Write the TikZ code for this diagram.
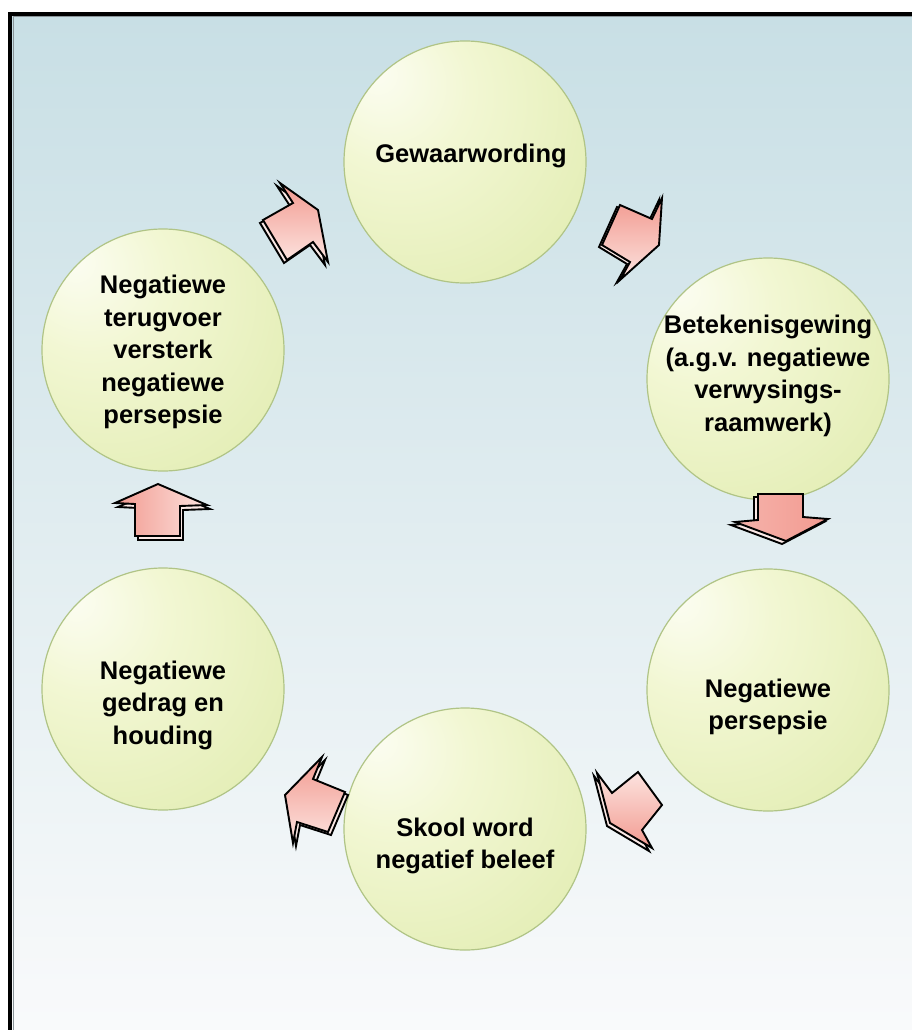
\documentclass[tikz,border=0pt]{standalone}
\usepackage{fontspec}
\setmainfont{Liberation Sans}
\usetikzlibrary{calc}
\definecolor{bgtop}{HTML}{C8DFE5}
\definecolor{bgbot}{HTML}{F9FAFB}
\definecolor{circin}{HTML}{FCFDF2}
\definecolor{circmid}{HTML}{F2F7D3}
\definecolor{circout}{HTML}{DEEAAA}
\definecolor{circedge}{HTML}{B0C486}
\definecolor{arrdark}{HTML}{F29A90}
\definecolor{arrlight}{HTML}{FCE3DF}
\definecolor{pinkside}{HTML}{FBE9E6}
\definecolor{framegray}{HTML}{8A9498}
\pgfdeclareradialshading{ballsh}{\pgfpoint{-19bp}{19bp}}{color(0bp)=(circin); color(16bp)=(circmid); color(50bp)=(circout); color(75bp)=(circout)}
\tikzset{
  arrmain/.style={draw=black, line width=1.9pt, line join=miter},
  arrside/.style={fill=pinkside, draw=black, line width=1.9pt, line join=miter},
  circ/.style={circle, minimum size=242pt, inner sep=0pt, draw=circedge, line width=1.2pt, shading=ballsh},
  lbl/.style={font=\bfseries\fontsize{25.5}{32.5}\selectfont, align=center, text=black, inner sep=0pt}
}
\begin{document}
\begin{tikzpicture}[x=1pt,y=-1pt]
\useasboundingbox (0,0) rectangle (912,1030);
\fill[white] (0,0) rectangle (912,1030);
\shade[top color=bgtop, bottom color=bgbot] (10,14) rectangle (912,1030);
\draw[framegray, line width=1pt] (13,1030) -- (13,17) -- (912,17);
\draw[black, line width=4pt] (10,1030) -- (10,14) -- (912,14);

% circles
\node[circ] (gew) at (465,162) {};
\node[circ] (bet) at (768,379) {};
\node[circ] (per) at (768,690) {};
\node[circ] (sko) at (465,829) {};
\node[circ] (ged) at (163,689) {};
\node[circ] (ter) at (163,350) {};

% labels
\node[lbl] (tgew) at ($(gew)+(6,-6)$) {Gewaarwording};
\node[lbl] (tbet) at ($(bet)+(0,-3)$) {Betekenisgewing\\(a.g.v. negatiewe\\verwysings-\\raamwerk)};
\node[lbl] (tper) at ($(per)+(0,17)$) {Negatiewe\\persepsie};
\node[lbl] (tsko) at ($(sko)+(0,17)$) {Skool word\\negatief beleef};
\node[lbl] (tged) at ($(ged)+(0,16)$) {Negatiewe\\gedrag en\\houding};
\node[lbl] (tter) at ($(ter)+(0,2)$) {Negatiewe\\terugvoer\\versterk\\negatiewe\\persepsie};

% arrow 1: terugvoer -> gewaarwording
\draw[arrside, shift={(-3,3)}] (318,210)--(280,183)--(293,203)--(263,220)--(287,260)--(313,242)--(328,262)--cycle;
\draw[arrmain, top color=arrdark, bottom color=arrlight] (318,210)--(280,183)--(293,203)--(263,220)--(287,260)--(313,242)--(328,262)--cycle;

% arrow 2: gewaarwording -> betekenisgewing
\draw[arrside, shift={(-3,2)}] (659,245)--(662,198)--(652,219)--(620,205)--(602,245)--(630,262)--(620,280)--cycle;
\draw[arrmain, top color=arrdark, bottom color=arrlight] (659,245)--(662,198)--(652,219)--(620,205)--(602,245)--(630,262)--(620,280)--cycle;

% arrow 3: betekenisgewing -> persepsie
\draw[arrside, shift={(-4,3)}] (758,494)--(803,494)--(803,517)--(828,519)--(786,541)--(735,522)--(758,520)--cycle;
\draw[arrmain, left color=arrdark!75, middle color=arrlight, right color=arrdark] (758,494)--(803,494)--(803,517)--(828,519)--(786,541)--(735,522)--(758,520)--cycle;

% arrow 4: persepsie -> skool
\draw[arrside, shift={(-3,3)}] (610,823)--(597,773)--(612,793)--(638,772)--(662,805)--(642,830)--(652,848)--cycle;
\draw[arrmain, top color=arrlight, bottom color=arrdark] (610,823)--(597,773)--(612,793)--(638,772)--(662,805)--(642,830)--(652,848)--cycle;

% arrow 5: skool -> gedrag
\draw[arrside, shift={(3,3)}] (285,795)--(322,757)--(313,779)--(345,792)--(328,832)--(297,822)--(293,843)--cycle;
\draw[arrmain, top color=arrdark, bottom color=arrlight] (285,795)--(322,757)--(313,779)--(345,792)--(328,832)--(297,822)--(293,843)--cycle;

% arrow 6: gedrag -> terugvoer
\draw[arrside, shift={(3,4)}] (158,484)--(207,505)--(180,506)--(180,536)--(135,536)--(135,504)--(115,503)--cycle;
\draw[arrmain, left color=arrdark, right color=arrlight] (158,484)--(207,505)--(180,506)--(180,536)--(135,536)--(135,504)--(115,503)--cycle;
\end{tikzpicture}
\end{document}
